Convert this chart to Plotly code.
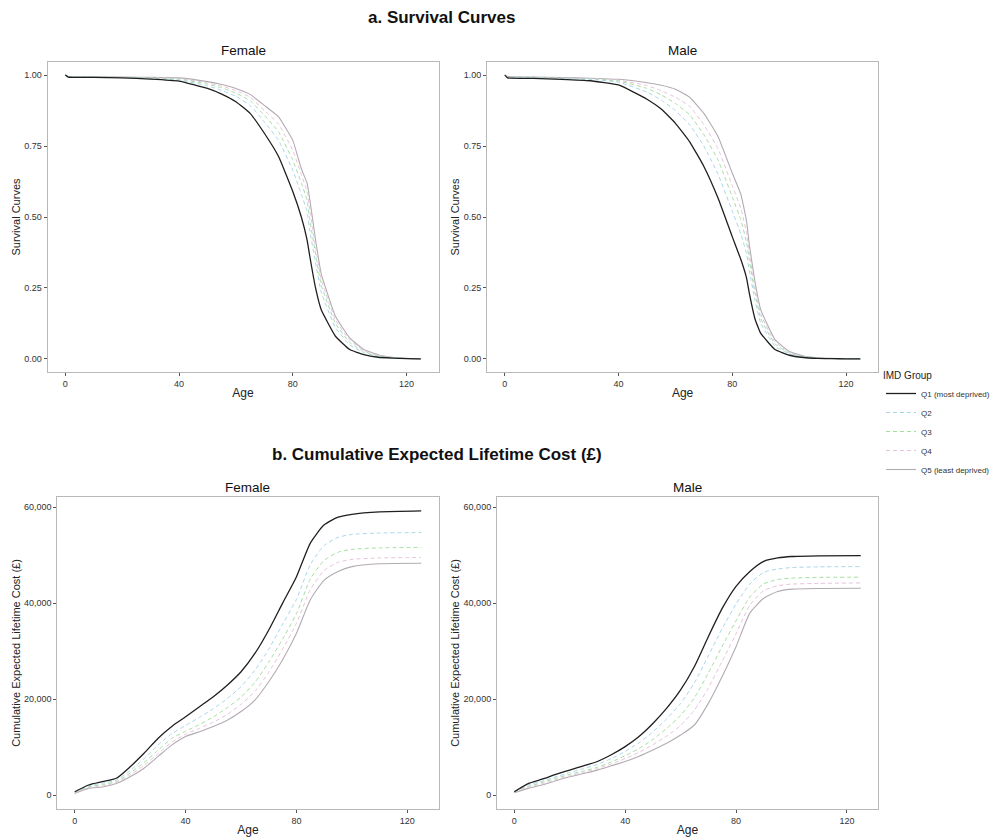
import plotly.graph_objects as go

# ---------------- data ----------------
groups = ["Q1 (most deprived)", "Q2", "Q3", "Q4", "Q5 (least deprived)"]

ages_surv = [0, 1, 10, 20, 30, 40, 50, 55, 60, 65, 70, 75, 80, 83, 85, 86, 88, 90, 95, 100, 105, 110, 115, 120, 125]

surv_female_q1 = [1.0, 0.993, 0.992, 0.990, 0.986, 0.979, 0.953, 0.933, 0.906, 0.865, 0.795, 0.713, 0.590, 0.50, 0.42, 0.36, 0.25, 0.173, 0.08, 0.033, 0.015, 0.006, 0.003, 0.001, 0.0]
surv_female_q2 = [1.0, 0.994, 0.993, 0.991, 0.988, 0.983, 0.962, 0.946, 0.925, 0.893, 0.835, 0.77, 0.665, 0.58, 0.52, 0.45, 0.34, 0.235, 0.11, 0.05, 0.022, 0.009, 0.004, 0.0015, 0.0]
surv_female_q3 = [1.0, 0.994, 0.993, 0.992, 0.990, 0.986, 0.968, 0.955, 0.936, 0.910, 0.858, 0.80, 0.70, 0.62, 0.56, 0.49, 0.37, 0.26, 0.125, 0.058, 0.026, 0.011, 0.005, 0.0018, 0.0]
surv_female_q4 = [1.0, 0.995, 0.994, 0.992, 0.991, 0.988, 0.973, 0.961, 0.945, 0.922, 0.875, 0.827, 0.735, 0.65, 0.59, 0.525, 0.395, 0.28, 0.138, 0.066, 0.03, 0.013, 0.0055, 0.002, 0.0]
surv_female_q5 = [1.0, 0.995, 0.994, 0.993, 0.992, 0.990, 0.977, 0.967, 0.953, 0.932, 0.893, 0.853, 0.77, 0.67, 0.62, 0.56, 0.42, 0.30, 0.15, 0.074, 0.033, 0.015, 0.006, 0.002, 0.0]

surv_male_q1 = [1.0, 0.99, 0.988, 0.985, 0.980, 0.965, 0.915, 0.88, 0.83, 0.765, 0.678, 0.566, 0.43, 0.35, 0.285, 0.23, 0.14, 0.09, 0.033, 0.013, 0.005, 0.002, 0.001, 0.0005, 0.0]
surv_male_q2 = [1.0, 0.993, 0.991, 0.988, 0.985, 0.975, 0.94, 0.912, 0.875, 0.825, 0.75, 0.65, 0.52, 0.44, 0.37, 0.31, 0.205, 0.125, 0.045, 0.018, 0.007, 0.003, 0.0012, 0.0006, 0.0]
surv_male_q3 = [1.0, 0.994, 0.992, 0.989, 0.987, 0.979, 0.953, 0.93, 0.9, 0.86, 0.79, 0.70, 0.57, 0.49, 0.41, 0.345, 0.23, 0.142, 0.053, 0.021, 0.008, 0.0033, 0.0014, 0.0007, 0.0]
surv_male_q4 = [1.0, 0.994, 0.992, 0.990, 0.988, 0.982, 0.963, 0.945, 0.922, 0.89, 0.825, 0.74, 0.61, 0.53, 0.445, 0.37, 0.25, 0.157, 0.06, 0.024, 0.009, 0.0037, 0.0016, 0.0008, 0.0]
surv_male_q5 = [1.0, 0.995, 0.993, 0.991, 0.989, 0.985, 0.973, 0.964, 0.95, 0.922, 0.865, 0.783, 0.654, 0.58, 0.485, 0.40, 0.27, 0.173, 0.068, 0.027, 0.01, 0.004, 0.002, 0.001, 0.0]

ages_cost = [0, 5, 10, 15, 20, 25, 30, 35, 40, 45, 50, 55, 60, 65, 70, 75, 80, 85, 90, 95, 100, 110, 125]

cost_female_q1 = [700, 2100, 2800, 3500, 5900, 8700, 11800, 14300, 16300, 18400, 20500, 22900, 25700, 29500, 34400, 40000, 45500, 52500, 56300, 57900, 58500, 59000, 59200]
cost_female_q2 = [600, 1900, 2500, 3100, 5100, 7600, 10400, 12800, 14500, 16200, 18000, 20100, 22600, 26000, 30400, 35600, 40800, 48000, 52000, 53700, 54300, 54600, 54700]
cost_female_q3 = [500, 1700, 2200, 2800, 4600, 6800, 9300, 11800, 13300, 14700, 16300, 18200, 20400, 23500, 27700, 32500, 37800, 45000, 48900, 50600, 51200, 51500, 51600]
cost_female_q4 = [450, 1500, 1900, 2600, 4200, 6200, 8600, 11000, 12700, 13900, 15200, 16800, 18900, 21600, 25600, 30400, 35800, 42800, 46800, 48500, 49100, 49400, 49500]
cost_female_q5 = [350, 1400, 1700, 2400, 3800, 5600, 8000, 10400, 12200, 13200, 14300, 15600, 17400, 19800, 23600, 28200, 33700, 40700, 44800, 46600, 47600, 48200, 48300]

cost_male_q1 = [700, 2400, 3300, 4300, 5200, 6100, 7000, 8400, 10100, 12200, 14900, 18100, 21900, 26800, 33000, 38900, 43500, 46600, 48700, 49400, 49700, 49850, 49900]
cost_male_q2 = [650, 2100, 2900, 3800, 4700, 5500, 6400, 7600, 9100, 10900, 13200, 15900, 19100, 23400, 29000, 34700, 39800, 44000, 46400, 47100, 47400, 47550, 47600]
cost_male_q3 = [600, 1800, 2600, 3500, 4300, 5000, 5800, 6900, 8200, 9700, 11600, 13900, 16600, 20300, 25400, 31000, 36300, 41300, 44000, 44900, 45200, 45350, 45400]
cost_male_q4 = [550, 1600, 2300, 3200, 4000, 4700, 5500, 6500, 7600, 8900, 10500, 12300, 14500, 17700, 22300, 27900, 33600, 39600, 42600, 43600, 43950, 44100, 44200]
cost_male_q5 = [500, 1400, 2100, 3000, 3800, 4500, 5200, 6100, 7000, 8100, 9400, 10800, 12500, 14600, 19100, 24700, 30900, 37900, 41000, 42400, 42900, 43050, 43100]

x_ticks = [0, 40, 80, 120]
surv_ticks = [0.0, 0.25, 0.5, 0.75, 1.0]
surv_tick_text = ["0.00", "0.25", "0.50", "0.75", "1.00"]
cost_ticks = [0, 20000, 40000, 60000]
cost_tick_text = ["0", "20,000", "40,000", "60,000"]

# ---------------- styling ----------------
FONT = "Arial, Liberation Sans, sans-serif"
colors = ["#1f1f1f", "#a9d6ea", "#a6dea0", "#e6c3dc", "#b3abb3"]
dashes = ["solid", "4px,3px", "4px,3px", "4px,3px", "solid"]
widths = [1.3, 1.0, 1.0, 1.0, 1.1]

panels = [
    ("x", "y", ages_surv, [surv_female_q1, surv_female_q2, surv_female_q3, surv_female_q4, surv_female_q5], 0.35, True),
    ("x2", "y2", ages_surv, [surv_male_q1, surv_male_q2, surv_male_q3, surv_male_q4, surv_male_q5], 0.35, False),
    ("x3", "y3", ages_cost, [cost_female_q1, cost_female_q2, cost_female_q3, cost_female_q4, cost_female_q5], 0.6, False),
    ("x4", "y4", ages_cost, [cost_male_q1, cost_male_q2, cost_male_q3, cost_male_q4, cost_male_q5], 0.6, False),
]

fig = go.Figure()
for xa, ya, ages, series, smooth, show in panels:
    # draw Q5..Q1 so black is on top
    for i in reversed(range(5)):
        fig.add_trace(go.Scatter(
            x=ages, y=series[i], mode="lines", name=groups[i],
            legendgroup=groups[i], showlegend=show, legendrank=i + 1,
            line=dict(color=colors[i], dash=dashes[i], width=widths[i], shape="spline",
                      smoothing=smooth),
            xaxis=xa, yaxis=ya, hoverinfo="x+y+name",
        ))

W, H = 995, 838
def px(a, b):
    return [a / W, b / W]
def py(top, bottom):
    return [1 - bottom / H, 1 - top / H]

axis_common = dict(
    showgrid=False, zeroline=False, showline=True, mirror=True, automargin=False,
    linecolor="#b8b8b8", linewidth=1, ticks="outside", ticklen=3,
    tickcolor="#555555", tickwidth=1,
    tickfont=dict(family=FONT, size=9, color="#333333"),
)
title_font = dict(family=FONT, size=11, color="#222222")
xcommon = dict(axis_common, range=[-6.25, 131.25], tickvals=x_ticks,
               title=dict(text="Age", font=dict(family=FONT, size=12, color="#222222"), standoff=0))

layout = dict(
    width=W, height=H, plot_bgcolor="white", paper_bgcolor="white",
    margin=dict(l=0, r=0, t=0, b=0),
    font=dict(family=FONT),
    xaxis=dict(xcommon, domain=px(48, 443), anchor="y"),
    xaxis2=dict(xcommon, domain=px(492, 887), anchor="y2"),
    xaxis3=dict(xcommon, domain=px(58, 443), anchor="y3"),
    xaxis4=dict(xcommon, domain=px(502, 887), anchor="y4"),
    yaxis=dict(axis_common, domain=py(62, 372), anchor="x", range=[-0.046, 1.046],
               tickvals=surv_ticks, ticktext=surv_tick_text,
               title=dict(text="Survival Curves", font=title_font, standoff=1)),
    yaxis2=dict(axis_common, domain=py(62, 372), anchor="x2", range=[-0.046, 1.046],
                tickvals=surv_ticks, ticktext=surv_tick_text,
                title=dict(text="Survival Curves", font=title_font, standoff=1)),
    yaxis3=dict(axis_common, domain=py(497, 809), anchor="x3", range=[-2900, 62100],
                tickvals=cost_ticks, ticktext=cost_tick_text,
                title=dict(text="Cumulative Expected Lifetime Cost (£)", font=title_font, standoff=1)),
    yaxis4=dict(axis_common, domain=py(497, 809), anchor="x4", range=[-2900, 62100],
                tickvals=cost_ticks, ticktext=cost_tick_text,
                title=dict(text="Cumulative Expected Lifetime Cost (£)", font=title_font, standoff=1)),
    legend=dict(
        x=890 / W, y=1 - 366 / H, xanchor="left", yanchor="top",
        title=dict(text="IMD Group", font=dict(family=FONT, size=10, color="#222222")),
        font=dict(family=FONT, size=8, color="#333333"),
        bgcolor="rgba(0,0,0,0)", tracegroupgap=0, itemwidth=30,
    ),
    showlegend=True,
)
fig.update_layout(**layout)

annotations = [
    dict(text="<b>a. Survival Curves</b>", x=446 / W, y=1 - 17 / H, size=17),
    dict(text="<b>b. Cumulative Expected Lifetime Cost (£)</b>", x=441 / W, y=1 - 454 / H, size=17),
    dict(text="Female", x=245.5 / W, y=1 - 50 / H, size=13.5),
    dict(text="Male", x=689.5 / W, y=1 - 50 / H, size=13.5),
    dict(text="Female", x=250.5 / W, y=1 - 487 / H, size=13.5),
    dict(text="Male", x=694.5 / W, y=1 - 487 / H, size=13.5),
]
for a in annotations:
    fig.add_annotation(text=a["text"], x=a["x"], y=a["y"], xref="paper", yref="paper",
                       showarrow=False, xanchor="center", yanchor="middle",
                       font=dict(family=FONT, size=a["size"], color="#111111"))

fig.write_html("out.html", config={"displayModeBar": False},
               post_script="document.body.style.margin='0';document.body.style.overflow='hidden';")
